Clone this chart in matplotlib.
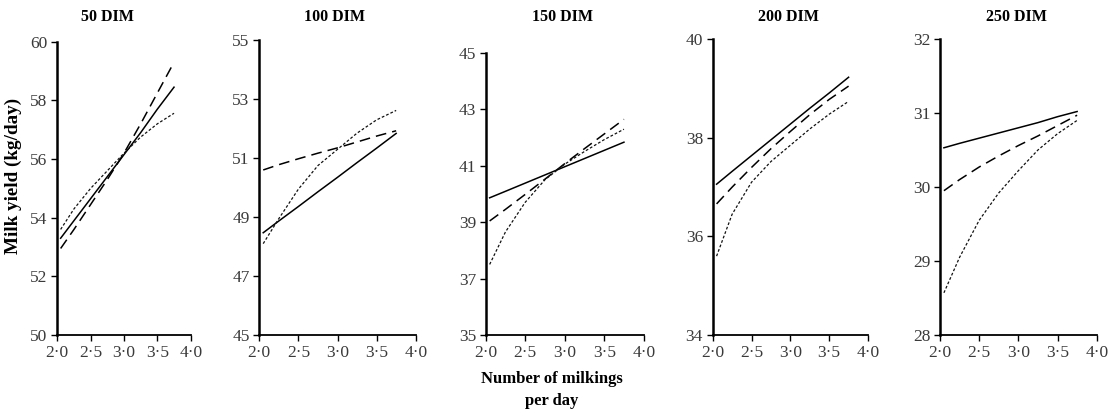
import matplotlib
matplotlib.use("Agg")
import matplotlib.pyplot as plt
from matplotlib.ticker import FuncFormatter

plt.rcParams['font.family'] = ['Liberation Serif', 'DejaVu Serif']

titles = ["50 DIM", "100 DIM", "150 DIM", "200 DIM", "250 DIM"]
milkings = [2.05, 2.25, 2.5, 2.75, 3.0, 3.25, 3.5, 3.75]

solid_50 = [53.3, 53.9, 54.65, 55.4, 56.15, 56.9, 57.7, 58.45]
dashed_50 = [52.95, 53.6, 54.45, 55.3, 56.2, 57.2, 58.25, 59.3]
dotted_50 = [53.6, 54.3, 55.0, 55.6, 56.2, 56.75, 57.2, 57.56]

solid_100 = [48.47, 48.87, 49.36, 49.86, 50.35, 50.85, 51.34, 51.84]
dashed_100 = [50.6, 50.78, 50.98, 51.17, 51.35, 51.55, 51.75, 51.93]
dotted_100 = [48.1, 48.95, 49.95, 50.75, 51.3, 51.85, 52.3, 52.62]

solid_150 = [39.86, 40.09, 40.38, 40.67, 40.96, 41.25, 41.54, 41.83]
dashed_150 = [39.04, 39.45, 39.98, 40.52, 41.07, 41.6, 42.12, 42.64]
dotted_150 = [37.5, 38.65, 39.7, 40.5, 41.05, 41.5, 41.92, 42.29]

solid_200 = [37.06, 37.32, 37.64, 37.96, 38.28, 38.6, 38.91, 39.23]
dashed_200 = [36.66, 37.0, 37.4, 37.78, 38.13, 38.47, 38.78, 39.05]
dotted_200 = [35.6, 36.45, 37.1, 37.52, 37.85, 38.18, 38.48, 38.74]

solid_250 = [30.53, 30.59, 30.66, 30.73, 30.8, 30.87, 30.95, 31.02]
dashed_250 = [29.95, 30.1, 30.27, 30.42, 30.56, 30.69, 30.83, 30.97]
dotted_250 = [28.57, 29.05, 29.55, 29.92, 30.22, 30.5, 30.72, 30.9]

solid = [solid_50, solid_100, solid_150, solid_200, solid_250]
dashed = [dashed_50, dashed_100, dashed_150, dashed_200, dashed_250]
dotted = [dotted_50, dotted_100, dotted_150, dotted_200, dotted_250]

y_ticks = [
    [50, 52, 54, 56, 58, 60],
    [45, 47, 49, 51, 53, 55],
    [35, 37, 39, 41, 43, 45],
    [34, 36, 38, 40],
    [28, 29, 30, 31, 32],
]
x_ticks = [2.0, 2.5, 3.0, 3.5, 4.0]

W, H = 1120, 412
# axes boxes in pixels: left, right, top, bottom
boxes = [
    (57.3, 190.7, 41.7, 335),
    (259.3, 415.7, 40.3, 335),
    (485.7, 643.7, 52.7, 335),
    (712.7, 868.0, 39.3, 335),
    (940.0, 1096.7, 39.0, 335),
]
title_x = [107, 335, 563, 788, 1016]

fig = plt.figure(figsize=(W / 100, H / 100), dpi=100)
fmt = FuncFormatter(lambda v, p: f"{v:.1f}".replace(".", "\u00b7"))
tick_col = "#3a3a3a"

for i in range(5):
    l, r, t, b = boxes[i]
    ax = fig.add_axes([l / W, 1 - b / H, (r - l) / W, (b - t) / H])
    ax.plot(milkings, solid[i], color="black", lw=1.1, ls="-")
    ax.plot(milkings, dashed[i], color="black", lw=1.1, ls=(0, (7, 4)))
    ax.plot(milkings, dotted[i], color="#111111", lw=0.9, ls=(0, (2.2, 1.6)))
    ax.set_xlim(2.0, 4.0)
    ax.set_ylim(y_ticks[i][0], y_ticks[i][-1])
    ax.set_xticks(x_ticks)
    ax.xaxis.set_major_formatter(fmt)
    ax.set_yticks(y_ticks[i])
    ax.spines["top"].set_visible(False)
    ax.spines["right"].set_visible(False)
    ax.spines["left"].set_linewidth(1.8)
    ax.spines["bottom"].set_linewidth(1.3)
    ax.tick_params(axis="both", direction="out", length=4, width=1.0,
                   labelsize=12.5, labelcolor=tick_col, pad=3)
    ax.patch.set_alpha(0)
    fig.text(title_x[i] / W, 1 - 17 / H, titles[i], ha="center", va="center",
             fontsize=11.5, fontweight="bold")

fig.text(13 / W, 1 - 176 / H, "Milk yield (kg/day)", rotation=90, ha="center",
         va="center", fontsize=13.8, fontweight="bold")
fig.text(552 / W, 1 - 390 / H, "Number of milkings\nper day", ha="center",
         va="center", fontsize=12, fontweight="bold", linespacing=1.5)

fig.savefig("out.png", dpi=100)
